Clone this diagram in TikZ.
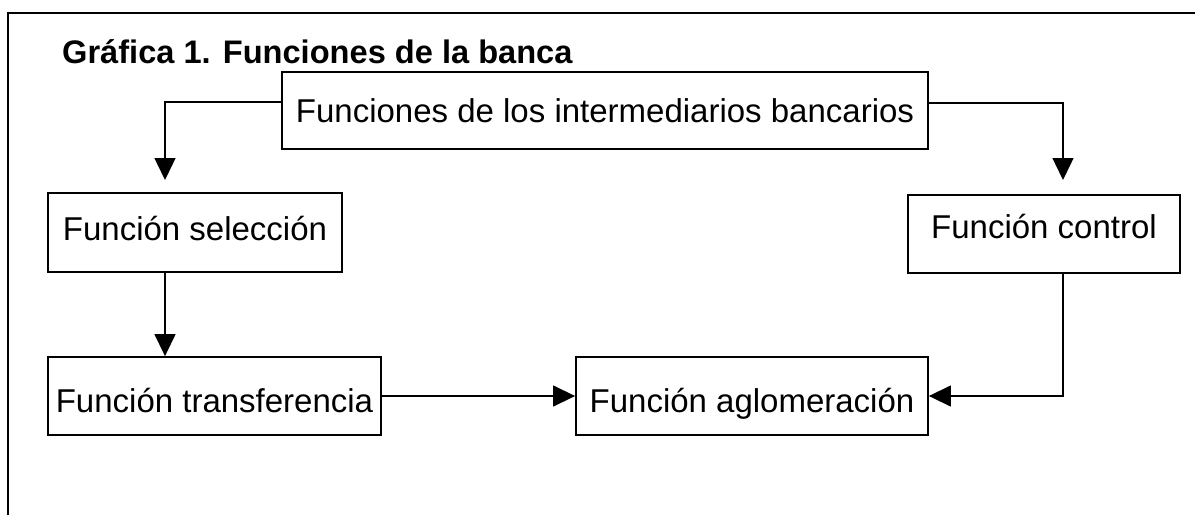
\documentclass[tikz,border=0pt]{standalone}
\usepackage{fontspec}
\setmainfont{Liberation Sans}
\usetikzlibrary{arrows.meta}
\begin{document}
\begin{tikzpicture}[x=1pt,y=-1pt,
  boxnode/.style={draw,line width=1.8pt,inner sep=0pt,font=\fontsize{33}{40}\selectfont},
  arr/.style={line width=1.4pt,-{Triangle[length=22pt,width=21pt]}},
  framel/.style={line width=1.8pt}]
\useasboundingbox (0,0) rectangle (1195,515);
% outer frame (open at right and bottom)
\coordinate (fb) at (8,515);
\coordinate (ftl) at (8,13);
\coordinate (fr) at (1195,13);
\draw[framel] (fb) -- (ftl) -- (fr);
% title
\node[anchor=base west,inner sep=0pt,font=\fontsize{32.6}{39}\selectfont\bfseries] (title) at (62,63) {Gráfica 1. Funciones de la banca};
% boxes
\node[boxnode,minimum width=646pt,text height=50pt,text depth=27pt] (top) at (605,110.5) {Funciones de los intermediarios bancarios};
\node[boxnode,minimum width=294pt,text height=47pt,text depth=32pt] (sel) at (195,232.5) {Función selección};
\node[boxnode,minimum width=272pt,text height=43pt,text depth=35pt] (ctrl) at (1044,234) {Función control};
\node[boxnode,minimum width=333pt,text height=55pt,text depth=23pt] (transf) at (214.5,396) {Función transferencia};
\node[boxnode,minimum width=352pt,text height=55pt,text depth=23pt] (aglo) at (752,396) {Función aglomeración};
% arrow end points
\coordinate (a1) at (165,180);
\coordinate (a2) at (1063,180);
% connectors
\draw[arr] ([yshift=8.5pt]top.west) -| (a1);
\draw[arr] ([yshift=7.5pt]top.east) -| (a2);
\draw[arr] (sel.south -| a1) -- (transf.north -| a1);
\draw[arr] (transf) -- (aglo);
\draw[arr] (ctrl.south -| a2) |- (aglo.east);
\end{tikzpicture}
\end{document}
